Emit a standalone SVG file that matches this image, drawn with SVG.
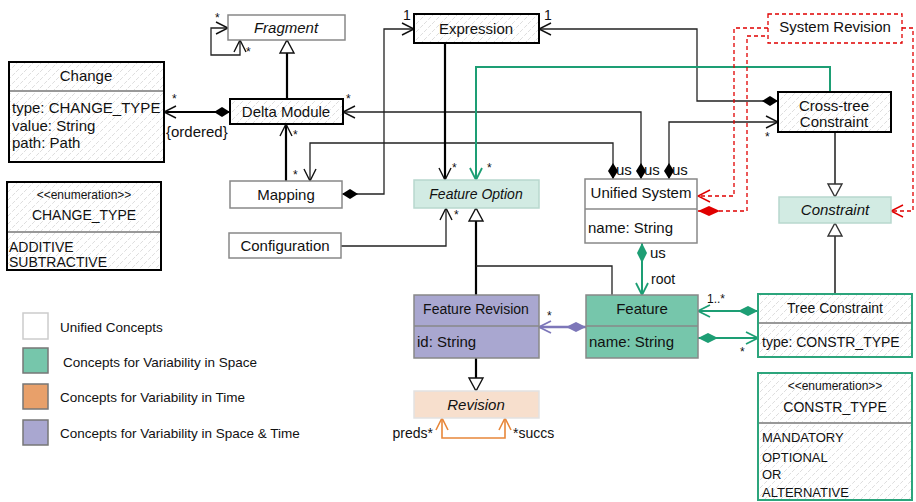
<svg xmlns="http://www.w3.org/2000/svg" width="916" height="502" viewBox="0 0 916 502">
<defs>
<pattern id="hatch" width="8" height="8" patternUnits="userSpaceOnUse">
<rect width="8" height="8" fill="#fff"/>
<path d="M0,8 L8,0" stroke="#d4d4d4" stroke-width="0.8" stroke-dasharray="4,2"/>
</pattern>
<marker id="arrK" markerUnits="userSpaceOnUse" markerWidth="14" markerHeight="14" refX="12" refY="6" orient="auto" overflow="visible"><path d="M0,0 L12,6 L0,12" fill="none" stroke="#111" stroke-width="1.4"/></marker>
<marker id="arrKs" markerUnits="userSpaceOnUse" markerWidth="14" markerHeight="14" refX="12" refY="6" orient="auto-start-reverse" overflow="visible"><path d="M0,0 L12,6 L0,12" fill="none" stroke="#111" stroke-width="1.4"/></marker>
<marker id="arrG" markerUnits="userSpaceOnUse" markerWidth="14" markerHeight="14" refX="12" refY="6" orient="auto" overflow="visible"><path d="M0,0 L12,6 L0,12" fill="none" stroke="#1d9e74" stroke-width="1.8"/></marker>
<marker id="arrR" markerUnits="userSpaceOnUse" markerWidth="14" markerHeight="14" refX="12" refY="6" orient="auto" overflow="visible"><path d="M0,0 L12,6 L0,12" fill="none" stroke="#e00000" stroke-width="1.4"/></marker>
<marker id="arrP" markerUnits="userSpaceOnUse" markerWidth="14" markerHeight="14" refX="12" refY="6" orient="auto" overflow="visible"><path d="M0,0 L12,6 L0,12" fill="none" stroke="#7d77b9" stroke-width="1.8"/></marker>
<marker id="arrOs" markerUnits="userSpaceOnUse" markerWidth="14" markerHeight="14" refX="12" refY="6" orient="auto-start-reverse" overflow="visible"><path d="M0,0 L12,6 L0,12" fill="none" stroke="#e8873a" stroke-width="1.6"/></marker>
<marker id="diaK" markerUnits="userSpaceOnUse" markerWidth="18" markerHeight="11" refX="0" refY="5" orient="auto" overflow="visible"><path d="M0,5 L8,0 L16,5 L8,10 Z" fill="#000"/></marker>
<marker id="diaG" markerUnits="userSpaceOnUse" markerWidth="18" markerHeight="11" refX="0" refY="5" orient="auto" overflow="visible"><path d="M0,5 L10,0 L20,5 L10,10 Z" fill="#1d9e74"/></marker>
<marker id="diaR" markerUnits="userSpaceOnUse" markerWidth="18" markerHeight="11" refX="0" refY="5" orient="auto" overflow="visible"><path d="M0,5 L11,0 L22,5 L11,10 Z" fill="#e00000"/></marker>
<marker id="diaP" markerUnits="userSpaceOnUse" markerWidth="18" markerHeight="11" refX="0" refY="5" orient="auto" overflow="visible"><path d="M0,5 L10,0 L20,5 L10,10 Z" fill="#7d77b9"/></marker>
<marker id="triK" markerUnits="userSpaceOnUse" markerWidth="14" markerHeight="15" refX="13" refY="7" orient="auto" overflow="visible"><path d="M0,0 L13,7 L0,14 Z" fill="#fff" stroke="#111" stroke-width="1.4"/></marker>
<marker id="triD" markerUnits="userSpaceOnUse" markerWidth="14" markerHeight="15" refX="13" refY="7" orient="auto" overflow="visible"><path d="M0,0 L13,7 L0,14 Z" fill="#fff" stroke="#333" stroke-width="1.4"/></marker>
<style>
text{font-family:"Liberation Sans",Arial,sans-serif;fill:#111;font-size:15px}
.c{text-anchor:middle}
.i{font-style:italic}
.s14{font-size:14px}
.s13{font-size:13px}
.lg{font-size:13.5px}
.s12{font-size:12px}
.m{font-size:12px}
.hb{fill:url(#hatch);stroke:#000;stroke-width:2}
.hg{fill:url(#hatch);stroke:#2ca57c;stroke-width:2}
.wb{fill:#fff;stroke:#888;stroke-width:1.5}
.div{stroke:#999;stroke-width:2}
.divg{stroke:#888;stroke-width:1.5}
.thick{fill:none;stroke:#000;stroke-width:2.2}
.thin{fill:none;stroke:#222;stroke-width:1.3}
.gray{fill:none;stroke:#555;stroke-width:2}
.green{fill:none;stroke:#1d9e74;stroke-width:2}
.red{fill:none;stroke:#e00000;stroke-width:1.3;stroke-dasharray:4,3}
.purple{fill:none;stroke:#7d77b9;stroke-width:2.5}
.orange{fill:none;stroke:#e8873a;stroke-width:1.6}
</style>
</defs>
<rect width="916" height="502" fill="#fff"/>

<g id="connectors">
<path class="thin" d="M228,28 L211,28 L211,55 L240,55 L240,40" marker-start="url(#arrKs)" marker-end="url(#arrK)"/>
<path class="thick" d="M287,99 L287,40" marker-end="url(#triK)"/>
<path class="thick" d="M230,112 L164,112" marker-start="url(#diaK)" marker-end="url(#arrK)"/>
<path class="thick" d="M286,181 L286,124" marker-end="url(#arrK)"/>
<path class="thin" d="M342,194 L384,194 L384,29 L414,29" marker-start="url(#diaK)" marker-end="url(#arrK)"/>
<path class="thin" d="M613,179 L613,143 L310,143 L310,181" marker-start="url(#diaK)" marker-end="url(#arrK)"/>
<path class="thin" d="M641,179 L641,112 L343,112" marker-start="url(#diaK)" marker-end="url(#arrK)"/>
<path class="thin" d="M669,179 L669,122 L778,122" marker-start="url(#diaK)" marker-end="url(#arrK)"/>
<path class="thin" d="M778,101 L697,101 L697,29 L539,29" marker-start="url(#diaK)" marker-end="url(#arrK)"/>
<path class="thick" d="M445,43 L445,180" marker-end="url(#arrK)"/>
<path class="green" d="M830,92 L830,67 L476,67 L476,180" marker-end="url(#arrG)"/>
<path class="thin" d="M341,246 L446,246 L446,208" marker-end="url(#arrK)"/>
<path class="thick" d="M476,295 L476,208" marker-end="url(#triK)"/>
<path class="thin" d="M612,295 L612,266 L476,266"/>
<path class="green" d="M642,243 L642,295" marker-start="url(#diaG)" marker-end="url(#arrG)"/>
<path class="purple" d="M586,327 L539,327" marker-start="url(#diaP)" marker-end="url(#arrP)"/>
<path class="thick" d="M476,358 L476,391" marker-end="url(#triK)"/>
<path class="orange" d="M442,418 L442,438 L505,438 L505,418" marker-start="url(#arrOs)" marker-end="url(#arrOs)"/>
<path class="green" d="M758,311 L698,311" marker-start="url(#diaG)" marker-end="url(#arrG)"/>
<path class="green" d="M698,338 L758,338" marker-start="url(#diaG)" marker-end="url(#arrG)"/>
<path class="gray" d="M835,132 L835,197" marker-end="url(#triD)"/>
<path class="gray" d="M835,294 L835,223" marker-end="url(#triD)"/>
<path class="red" d="M768,28 L734,28 L734,196 L698,196" marker-end="url(#arrR)"/>
<path class="red" d="M698,211 L747,211 L747,36 L768,36" marker-start="url(#diaR)"/>
<path class="red" d="M902,28 L913,28 L913,211 L891,211" marker-end="url(#arrR)"/>
<text class="m" x="215" y="22">*</text>
<text class="m" x="246" y="56">*</text>
<text class="m" x="172" y="103">*</text>
<text x="166" y="137">{ordered}</text>
<text class="m" x="346" y="103">*</text>
<text class="m" x="293" y="139">*</text>
<text class="m" x="293" y="179">*</text>
<text class="s14" x="403" y="20">1</text>
<text class="s14" x="544" y="20">1</text>
<text class="m" x="452" y="172">*</text>
<text class="m" x="487" y="172">*</text>
<text class="m" x="454" y="219">*</text>
<text x="616" y="175">us</text>
<text x="644" y="175">us</text>
<text x="672" y="175">us</text>
<text class="m" x="765" y="141">*</text>
<text x="650" y="258">us</text>
<text class="s14" x="651" y="284">root</text>
<text class="m" x="547" y="320">*</text>
<text class="s12" x="707" y="303">1..*</text>
<text class="m" x="740" y="356">*</text>
<text class="s14" x="433" y="438" text-anchor="end">preds*</text>
<text class="s14" x="513" y="438">*succs</text>
</g>

<g id="fragment">
<rect class="wb" x="228" y="15" width="117" height="25"/>
<text class="c i" x="286" y="33">Fragment</text>
</g>
<g id="change">
<rect class="hb" x="9" y="62" width="155" height="100"/>
<line class="div" x1="10" y1="91" x2="163" y2="91"/>
<text class="c" x="86" y="81">Change</text>
<text x="12" y="113">type: CHANGE_TYPE</text>
<text x="12" y="131">value: String</text>
<text x="12" y="148">path: Path</text>
</g>
<g id="delta-module">
<rect class="hb" x="230" y="99" width="113" height="25"/>
<text class="c" x="286" y="117">Delta Module</text>
</g>
<g id="expression">
<rect class="hb" x="414" y="14" width="125" height="29"/>
<text class="c" x="476" y="34">Expression</text>
</g>
<g id="change-type">
<rect class="hb" x="7" y="182" width="154" height="88"/>
<line class="div" x1="8" y1="232" x2="160" y2="232"/>
<text class="c s12" x="84" y="199">&lt;&lt;enumeration&gt;&gt;</text>
<text class="c s14" x="84" y="220">CHANGE_TYPE</text>
<text class="s14" x="9" y="252">ADDITIVE</text>
<text class="s14" x="9" y="267">SUBTRACTIVE</text>
</g>
<g id="mapping">
<rect class="wb" x="230" y="181" width="112" height="27"/>
<text class="c" x="286" y="200">Mapping</text>
</g>
<g id="configuration">
<rect class="wb" x="229" y="233" width="112" height="25"/>
<text class="c" x="285" y="251">Configuration</text>
</g>
<g id="feature-option">
<rect x="414" y="180" width="125" height="28" fill="#d2ebe3" stroke="#b8d8ce" stroke-width="1.5"/>
<text class="c i s14" x="476" y="199">Feature Option</text>
</g>
<g id="unified-system">
<rect class="wb" x="585" y="179" width="112" height="64"/>
<line class="divg" x1="585" y1="209" x2="697" y2="209"/>
<text class="c" x="641" y="198">Unified System</text>
<text x="588" y="233">name: String</text>
</g>
<g id="system-revision">
<rect x="768" y="14" width="134" height="29" fill="#fff" stroke="#e00000" stroke-width="1.3" stroke-dasharray="4,3"/>
<text class="c" x="835" y="32">System Revision</text>
</g>
<g id="cross-tree-constraint">
<rect class="hb" x="778" y="92" width="113" height="40"/>
<text class="c" x="834" y="111">Cross-tree</text>
<text class="c" x="834" y="127">Constraint</text>
</g>
<g id="constraint">
<rect x="779" y="197" width="112" height="26" fill="#d2ebe3" stroke="#b8d8ce" stroke-width="1.5"/>
<text class="c i" x="835" y="215">Constraint</text>
</g>
<g id="feature-revision">
<rect x="414" y="295" width="125" height="63" fill="#a9a7d0" stroke="#888" stroke-width="1.5"/>
<line class="divg" x1="414" y1="326" x2="539" y2="326"/>
<text class="c s14" x="476" y="314">Feature Revision</text>
<text x="417" y="347">id: String</text>
</g>
<g id="feature">
<rect x="586" y="295" width="112" height="63" fill="#76c6ab" stroke="#888" stroke-width="1.5"/>
<line class="divg" x1="586" y1="326" x2="698" y2="326"/>
<text class="c" x="642" y="314">Feature</text>
<text x="589" y="347">name: String</text>
</g>
<g id="revision">
<rect x="414" y="391" width="125" height="27" fill="#f7dfcd" stroke="#e2e2e2" stroke-width="1.5"/>
<text class="c i" x="476" y="410">Revision</text>
</g>
<g id="tree-constraint">
<rect class="hg" x="758" y="294" width="154" height="63"/>
<line class="div" x1="759" y1="323" x2="911" y2="323"/>
<text class="c s14" x="835" y="313">Tree Constraint</text>
<text class="s14" x="762" y="347">type: CONSTR_TYPE</text>
</g>
<g id="constr-type">
<rect class="hg" x="758" y="373" width="154" height="127"/>
<line class="div" x1="759" y1="423" x2="911" y2="423"/>
<text class="c s12" x="835" y="390">&lt;&lt;enumeration&gt;&gt;</text>
<text class="c s14" x="835" y="412">CONSTR_TYPE</text>
<text class="s13" x="762" y="442">MANDATORY</text>
<text class="s13" x="762" y="462">OPTIONAL</text>
<text class="s13" x="762" y="479">OR</text>
<text class="s13" x="762" y="497">ALTERNATIVE</text>
</g>
<g id="legend">
<rect x="23" y="313" width="25" height="26" fill="#fff" stroke="#ccc" stroke-width="1.5"/>
<rect x="23" y="348" width="25" height="25" fill="#76c6ab" stroke="#777" stroke-width="1.5"/>
<rect x="23" y="384" width="25" height="25" fill="#e8a06a" stroke="#777" stroke-width="1.5"/>
<rect x="23" y="420" width="25" height="25" fill="#a9a7d0" stroke="#777" stroke-width="1.5"/>
<text class="lg" x="60" y="332">Unified Concepts</text>
<text class="lg" x="63" y="367">Concepts for Variability in Space</text>
<text class="lg" x="60" y="402">Concepts for Variability in Time</text>
<text class="lg" x="60" y="438">Concepts for Variability in Space &amp; Time</text>
</g>
</svg>
